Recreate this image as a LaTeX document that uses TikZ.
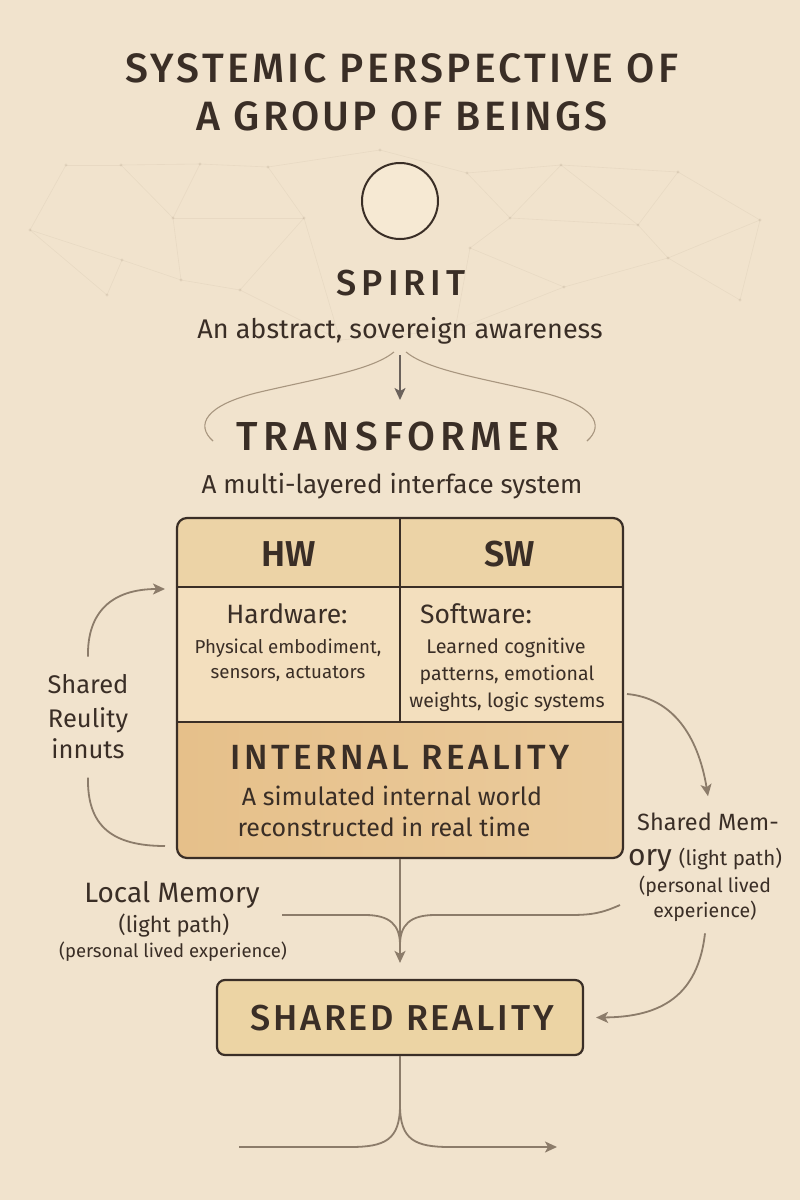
\documentclass[tikz,border=0pt]{standalone}
\usepackage{fontspec}
\setmainfont{Fira Sans}
\newfontfamily\headfont{Fira Sans}[UprightFont=* Medium]
\newfontfamily\cellfont{Fira Sans}[UprightFont=* SemiBold]
\usetikzlibrary{arrows.meta}

\definecolor{bg}{HTML}{F1E3CD}
\definecolor{ink}{HTML}{3A2E26}
\definecolor{wire}{HTML}{8C7C6A}
\definecolor{faint}{HTML}{A8967F}
\definecolor{hdr}{HTML}{ECD3A6}
\definecolor{midrow}{HTML}{F3DFBE}
\definecolor{deep}{HTML}{E6C08A}
\definecolor{srfill}{HTML}{ECD4A4}
\definecolor{orb}{HTML}{F6E9D3}

\newcommand{\fsz}[1]{\fontsize{#1}{#1}\selectfont}

\tikzset{
  lbl/.style={text=ink, inner sep=0pt, anchor=base},
  tip/.style={-{Stealth[length=12pt,width=11pt,inset=3pt]}},
  wireline/.style={draw=wire, line width=1.8pt},
  wirearrow/.style={wireline, tip},
  bracket/.style={draw=faint, line width=1.1pt},
  web/.style={draw=faint, line width=.6pt, opacity=.12},
  knot/.style={fill=faint, opacity=.18},
}

\begin{document}
\begin{tikzpicture}[x=1pt,y=-1pt]
\useasboundingbox (0,0) rectangle (800,1200);
\fill[bg] (0,0) rectangle (800,1200);

% faint network behind the upper half
\foreach \n/\p in {1/{66,165},2/{121,165},3/{200,164},4/{268,167},5/{467,173},
  6/{561,165},7/{678,172},8/{173,218},9/{304,218},10/{510,218},11/{638,225},
  12/{122,260},13/{181,280},14/{240,290},15/{107,295},16/{564,287},17/{470,248},
  18/{668,258},19/{30,230},20/{760,220},21/{740,300},22/{340,340},23/{455,330},24/{380,150}}
  \coordinate (w\n) at (\p);
\foreach \a/\b in {1/2,2/3,3/4,4/24,24/5,5/6,6/7,7/20,1/19,19/12,2/8,3/8,8/9,4/9,9/14,
  8/13,12/13,13/14,12/15,15/19,14/22,9/22,5/10,6/10,10/17,17/16,6/11,11/18,7/11,16/18,
  18/21,20/21,16/23,17/23,22/23,10/11,18/20}
  \draw[web] (w\a) -- (w\b);
\foreach \n in {1,...,24} \fill[knot] (w\n) circle (1.6pt);

% title
\node[lbl, font=\headfont\fsz{41}\addfontfeatures{LetterSpace=8}] (t1) at (402,82) {SYSTEMIC PERSPECTIVE OF};
\node[lbl, font=\headfont\fsz{41}\addfontfeatures{LetterSpace=8}] (t2) at (402,130) {A GROUP OF BEINGS};

% spirit
\node[circle, draw=ink, line width=2pt, fill=orb, minimum size=76pt, inner sep=0pt] (orb) at (400,201) {};
\node[lbl, font=\headfont\fsz{36}\addfontfeatures{LetterSpace=14}] (spirit) at (401,295) {SPIRIT};
\node[lbl, font=\fsz{27}] (spiritsub) at (400,338) {An abstract, sovereign awareness};

% transformer heading
\node[lbl, font=\headfont\fsz{40.5}\addfontfeatures{LetterSpace=13}] (tf) at (398,450) {TRANSFORMER};
\node[lbl, font=\fsz{26}] (tfsub) at (392,493) {A multi-layered interface system};
\coordinate (downS) at (400,355);
\coordinate (downE) at (400,400);
\draw[draw=ink!75, line width=1.6pt, tip] (downS) -- (downE);

% bracket over the heading
\draw[bracket] (213,441) .. controls (195,425) and (205,405) .. (260,392)
  .. controls (320,378) and (372,370) .. (394,352);
\draw[bracket] (587,441) .. controls (605,425) and (595,405) .. (540,392)
  .. controls (480,378) and (428,370) .. (406,352);

% transformer table
\begin{scope}
  \clip[rounded corners=10pt] (177,518) rectangle (623,858);
  \fill[hdr] (177,518) rectangle (623,587);
  \fill[midrow] (177,587) rectangle (623,722);
  \shade[left color=deep, right color=deep!65!midrow] (177,722) rectangle (623,858);
\end{scope}
\node[draw=ink, line width=2.2pt, rounded corners=10pt, minimum width=446pt,
  minimum height=340pt, inner sep=0pt] (tbox) at (400,688) {};
\draw[ink, line width=1.8pt] (177,587) -- (623,587);
\draw[ink, line width=1.8pt] (177,722) -- (623,722);
\draw[ink, line width=1.8pt] (400,518) -- (400,722);

\node[lbl, font=\cellfont\fsz{36}] (hw) at (289,566) {HW};
\node[lbl, font=\cellfont\fsz{36}] (sw) at (510,566) {SW};

\node[lbl, font=\fsz{26.5}] (hwa) at (287,623) {Hardware:};
\node[lbl, font=\fsz{18.7}] (hwb) at (288,653) {Physical embodiment,};
\node[lbl, font=\fsz{18.7}] (hwc) at (288,678) {sensors, actuators};

\node[lbl, font=\fsz{26.5}] (swa) at (476,623) {Software:};
\node[lbl, font=\fsz{19.8}] (swb) at (506,653) {Learned cognitive};
\node[lbl, font=\fsz{19.5}] (swc) at (507,680) {patterns, emotional};
\node[lbl, font=\fsz{19.5}] (swd) at (507,707) {weights, logic systems};

\node[lbl, font=\headfont\fsz{35}\addfontfeatures{LetterSpace=10}] (ir) at (400,769) {INTERNAL REALITY};
\node[lbl, font=\fsz{25}] (ira) at (392,805) {A simulated internal world};
\node[lbl, font=\fsz{25}] (irb) at (384,836) {reconstructed in real time};

% left loop: shared reality inputs
\node[lbl, font=\fsz{25.5}] (sri1) at (88,693) {Shared};
\node[lbl, font=\fsz{25.5}] (sri2) at (88,727) {Reulity};
\node[lbl, font=\fsz{25.5}] (sri3) at (88,758) {innuts};
\coordinate (lpin) at (165,589);
\coordinate (lpout) at (165,846);
\draw[wirearrow] ([yshift=17pt]sri1.north) .. controls (87,612) and (112,589) .. (lpin);
\draw[wireline] ([yshift=-19pt]sri3.south) .. controls (87,826) and (112,846) .. (lpout);

% right side: shared memory
\node[lbl, font=\fsz{23.5}] (sm1) at (708,830) {Shared Mem-};
\node[lbl] (sm2) at (705,865) {{\fsz{30}ory}\hspace{7pt}{\fsz{20.5}(light path)}};
\node[lbl, font=\fsz{19.5}] (sm3) at (705,892) {(personal lived};
\node[lbl, font=\fsz{19.5}] (sm4) at (705,917) {experience)};
\coordinate (smsrc) at (627,694);
\draw[wirearrow] (smsrc) .. controls (672,698) and (698,735) .. ([yshift=16pt]sm1.north);

% shared reality box
\node[draw=ink, line width=2.2pt, rounded corners=8pt, fill=srfill, minimum width=366pt,
  minimum height=75pt, inner sep=0pt] (sr) at (400,1017.5) {};
\node[lbl, font=\headfont\fsz{36}\addfontfeatures{LetterSpace=8}] (srlbl) at (402,1030) {SHARED REALITY};
\draw[wirearrow] ([yshift=-12pt]sm4.south) .. controls (698,995) and (662,1017) .. ([xshift=12pt]sr.east);

% local memory
\node[lbl, font=\fsz{28}] (lm1) at (172,902) {Local Memory};
\node[lbl, font=\fsz{22}] (lm2) at (174,932) {(light path)};
\node[lbl, font=\fsz{18.5}] (lm3) at (173,957) {(personal lived experience)};

% merge into shared reality
\coordinate (lmsrc) at (282,915);
\coordinate (smsrc2) at (620,905);
\coordinate (join) at (400,945);
\draw[wirearrow] (tbox.south) -- ([yshift=16pt]sr.north);
\draw[wireline] (lmsrc) -- (365,915) .. controls (390,915) and (400,925) .. (join);
\draw[wireline] (smsrc2) .. controls (602,913) and (592,915) .. (570,915) -- (435,915)
  .. controls (410,915) and (400,925) .. (join);

% outflow below shared reality
\coordinate (fork) at (400,1105);
\coordinate (outl) at (239,1147);
\coordinate (outr) at (557,1147);
\draw[wireline] (sr.south) -- (fork);
\draw[wireline] (fork) .. controls (400,1140) and (385,1147) .. (350,1147) -- (outl);
\draw[wirearrow] (fork) .. controls (400,1140) and (415,1147) .. (450,1147) -- (outr);

\end{tikzpicture}
\end{document}
